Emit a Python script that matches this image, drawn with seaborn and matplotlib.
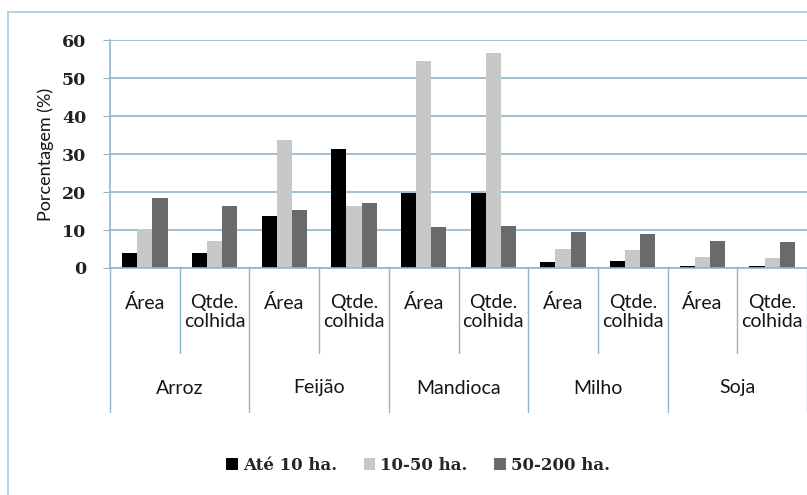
import matplotlib
matplotlib.use("Agg")
import matplotlib.pyplot as plt
import seaborn as sns
import pandas as pd
from matplotlib.lines import Line2D
from matplotlib.patches import Patch
import matplotlib.transforms as mtransforms

crops = ["Arroz", "Feijão", "Mandioca", "Milho", "Soja"]
measures = ["Área", "Qtde.\ncolhida"]
series = ["Até 10 ha.", "10-50 ha.", "50-200 ha."]
ate10 = [3.9, 3.9, 13.6, 31.2, 19.7, 19.7, 1.6, 1.9, 0.4, 0.4]
de10a50 = [10.2, 7.2, 33.7, 16.2, 54.6, 56.7, 5.0, 4.7, 3.0, 2.6]
de50a200 = [18.4, 16.4, 15.3, 17.2, 10.7, 11.1, 9.4, 9.0, 7.2, 6.9]
colors = ["#000000", "#c8c8c8", "#6a6a6a"]
yticks = [0, 10, 20, 30, 40, 50, 60]

keys = [f"{c}|{m}" for c in crops for m in measures]
rows = []
for s, vals in zip(series, [ate10, de10a50, de50a200]):
    for k, v in zip(keys, vals):
        rows.append({"key": k, "serie": s, "valor": v})
df = pd.DataFrame(rows)

sns.set_style("white")
fig = plt.figure(figsize=(8.07, 4.95), dpi=100)
W, H = 807, 495
ax = fig.add_axes([110 / W, 1 - 268 / H, 697 / W, 228 / H])

sns.barplot(data=df, x="key", y="valor", hue="serie", order=keys,
            hue_order=series, palette=colors, width=0.65, gap=0,
            saturation=1, ax=ax, legend=False, edgecolor="none")

grid_c = "#8fb6cb"
txt_c = "#151515"
ax.set_ylim(0, 60)
ax.set_xlim(-0.5, len(keys) - 0.5)
ax.set_yticks(yticks)
ax.set_yticklabels([str(t) for t in yticks], fontfamily="DejaVu Serif",
                   fontweight="bold", fontsize=12.5, color="#222222")
ax.yaxis.grid(True, color=grid_c, lw=1.2)
ax.set_axisbelow(True)
ax.tick_params(axis="y", length=5, color=grid_c, pad=12, left=True)
ax.tick_params(axis="x", length=0, labelbottom=False)
ax.set_xlabel("")
ax.set_ylabel("Porcentagem (%)", fontfamily="Lato", fontsize=13, labelpad=6, color=txt_c)
for sp in ["top", "right"]:
    ax.spines[sp].set_visible(False)
ax.spines["left"].set_color(grid_c)
ax.spines["bottom"].set_color(grid_c)
ax.spines["left"].set_linewidth(1.2)
ax.spines["bottom"].set_linewidth(1.2)

trans = mtransforms.blended_transform_factory(ax.transData, ax.transAxes)
def ay(px):
    return (268 - px) / 228.0

for i in range(len(keys) + 1):
    xb = i - 0.5
    if i % 2 == 0:
        ax.plot([xb, xb], [0, ay(412)], transform=trans, color=grid_c, lw=1, clip_on=False)
    else:
        ax.plot([xb, xb], [0, ay(353)], transform=trans, color=grid_c, lw=1, clip_on=False)

for i, k in enumerate(keys):
    m = k.split("|")[1]
    ax.text(i, ay(294), m, transform=trans, ha="center", va="top",
            fontfamily="Lato", fontsize=14, color=txt_c, linespacing=1.15)
for j, c in enumerate(crops):
    ax.text(2 * j + 0.5, ay(388), c, transform=trans, ha="center", va="center",
            fontfamily="Lato", fontsize=14, color=txt_c)

# outer chart frame (left and top)
fig.add_artist(Line2D([8 / W, 8 / W], [0, 1 - 12 / H], transform=fig.transFigure, color="#a9c9da", lw=1.2))
fig.add_artist(Line2D([8 / W, 1], [1 - 12 / H, 1 - 12 / H], transform=fig.transFigure, color="#a9c9da", lw=1.2))

handles = [Patch(facecolor=c, edgecolor="none") for c in colors]
fig.legend(handles, series, loc="center", ncol=3, bbox_to_anchor=(418 / W, 1 - 465 / H),
           frameon=False, handlelength=0.7, handleheight=0.7, handletextpad=0.3,
           columnspacing=1.6, prop={"family": "DejaVu Serif", "weight": "bold", "size": 12})

fig.savefig("out.png", dpi=100)
